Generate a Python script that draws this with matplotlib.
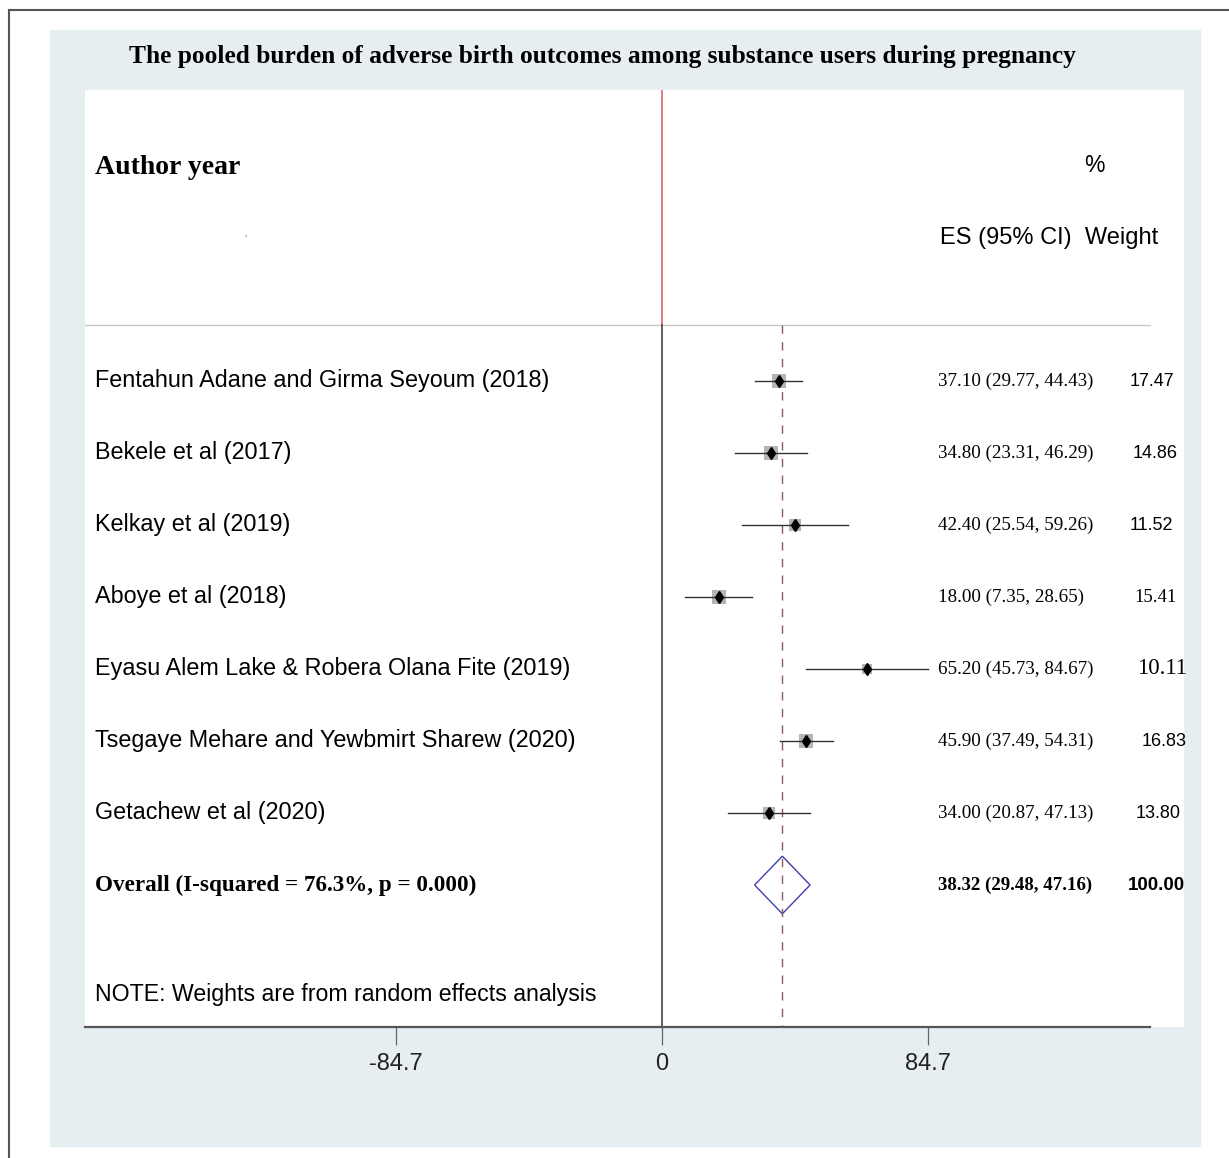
import matplotlib.pyplot as plt
from matplotlib.lines import Line2D
from matplotlib.patches import Rectangle

# study data
studies = ['Fentahun Adane and Girma Seyoum (2018)', 'Bekele et al (2017)',
           'Kelkay et al (2019)', 'Aboye et al (2018)',
           'Eyasu Alem Lake & Robera Olana Fite (2019)',
           'Tsegaye Mehare and Yewbmirt Sharew (2020)', 'Getachew et al (2020)']
es = [37.10, 34.80, 42.40, 18.00, 65.20, 45.90, 34.00]
lo = [29.77, 23.31, 25.54, 7.35, 45.73, 37.49, 20.87]
hi = [44.43, 46.29, 59.26, 28.65, 84.67, 54.31, 47.13]
weights = [17.47, 14.86, 11.52, 15.41, 10.11, 16.83, 13.80]
weight_labels = ['17.47', '14.86', '11.52', '15.41', '10.11', '16.83', '13.80']
pooled_es, pooled_lo, pooled_hi = 38.32, 29.48, 47.16
ticks = [-84.7, 0, 84.7]
tick_labels = ['-84.7', '0', '84.7']

# fonts used by the weight column in the source image
weight_fonts = ['sans', 'sans', 'sans', 'serif', 'serif', 'sans', 'sans']
weight_sizes = [13, 13, 13, 13.5, 16.5, 13, 13]
weight_right = [1174, 1178, 1173, 1177, 1187, 1187, 1181]

SERIF = ['Liberation Serif', 'DejaVu Serif']
SANS = ['Liberation Sans', 'DejaVu Sans']

W, H = 1229, 1158
fig = plt.figure(figsize=(W / 100, H / 100), dpi=100)
fig.patch.set_facecolor('white')


def fx(px):
    return px / W


def fy(py):
    return 1 - py / H


# outer frame (left and top visible)
fig.add_artist(Line2D([fx(9), fx(9)], [fy(10), 0], color='#555555', lw=1.5))
fig.add_artist(Line2D([fx(9), 1], [fy(10), fy(10)], color='#555555', lw=1.5))

# light blue background panel
fig.add_artist(Rectangle((fx(50), fy(1146)), fx(1200) - fx(50), fy(30) - fy(1146),
                         transform=fig.transFigure, color='#e7eef1', zorder=0))

fig.text(fx(602), fy(57),
         'The pooled burden of adverse birth outcomes among substance users during pregnancy',
         ha='center', va='center', family=SERIF, weight='bold', fontsize=18.3)

# main plotting area
left, right, top, bottom = 85, 1184, 90, 1027
ax = fig.add_axes([fx(left), fy(bottom), fx(right) - fx(left), fy(top) - fy(bottom)])
ax.set_facecolor('white')
scale = 266 / 84.7  # px per unit
x0 = 662
ax.set_xlim((left - x0) / scale, (right - x0) / scale)
row_px, row_h = 381, 72
ax.set_ylim((bottom - row_px) / row_h + 1, (top - row_px) / row_h + 1)

for s in ['top', 'right', 'left']:
    ax.spines[s].set_visible(False)
xmax_line = (1150 - x0) / scale
ax.spines['bottom'].set_bounds((left - x0) / scale, xmax_line)
ax.spines['bottom'].set_color('#555555')
ax.spines['bottom'].set_linewidth(1.6)
ax.set_yticks([])
ax.set_xticks(ticks)
ax.set_xticklabels(tick_labels, family=SANS, fontsize=17, color='#222222')
ax.tick_params(axis='x', direction='out', length=13, width=0.9, color='#666666', pad=6)

sep_y = (325 - row_px) / row_h + 1
ymin, ymax = ax.get_ylim()
ax.plot([(left - x0) / scale, xmax_line], [sep_y, sep_y], color='#c8c8c8', lw=1)
ax.plot([0, 0], [ymax, sep_y], color='#e06666', lw=1.2)
ax.plot([0, 0], [sep_y, ymin], color='#444444', lw=1.2)
ax.plot([pooled_es, pooled_es], [sep_y, ymin], color='#8a5a5a', lw=1,
        dashes=(6, 6))

rows = list(range(1, len(studies) + 1))
for r, e, l, h, w in zip(rows, es, lo, hi, weights):
    ax.plot([l, h], [r, r], color='#333333', lw=1, zorder=3)
    ax.plot(e, r, marker='s', markersize=3.4 * (w ** 0.5) * 0.72, color='#b4b4b4',
            markeredgewidth=0, zorder=2)
    ax.plot(e, r, marker='d', markersize=6.5, color='black', zorder=4)

pr = len(studies) + 1
ax.fill([pooled_lo, pooled_es, pooled_hi, pooled_es],
        [pr, pr - 0.4, pr, pr + 0.4], fill=False, edgecolor='#4040b0', lw=1)


def xd(px):
    return (px - x0) / scale


# header
ax.text(xd(95), -1.96, 'Author year', family=SERIF, weight='bold', fontsize=20,
        va='center', ha='left')
ax.text(xd(1094), -2.0, '%', family=SANS, fontsize=16.5, va='center', ha='center')
ax.text(xd(940), (238 - row_px) / row_h + 1, 'ES (95% CI)  Weight', family=SANS,
        fontsize=17, va='center', ha='left')
ax.text(xd(245), (240 - row_px) / row_h + 1, "'", family=SANS, fontsize=8,
        color='#777777', va='center', ha='center')

for r, name, e, l, h, wl, wf, ws, wr in zip(rows, studies, es, lo, hi, weight_labels,
                                            weight_fonts, weight_sizes, weight_right):
    ax.text(xd(95), r, name, family=SANS, fontsize=16.8, va='center', ha='left')
    ax.text(xd(938), r, f'{e:.2f} ({l:.2f}, {h:.2f})', family=SERIF, fontsize=13.7,
            va='center', ha='left')
    ax.text(xd(wr), r, wl, family=SERIF if wf == 'serif' else SANS, fontsize=ws,
            va='center', ha='right')

ax.text(xd(95), pr, 'Overall (I-squared = 76.3%, p = 0.000)', family=SERIF,
        weight='bold', fontsize=16.7, va='center', ha='left')
ax.text(xd(938), pr, f'{pooled_es:.2f} ({pooled_lo:.2f}, {pooled_hi:.2f})',
        family=SERIF, weight='bold', fontsize=13.6, va='center', ha='left')
ax.text(xd(1185), pr, '100.00', family=SANS, weight='bold', fontsize=13.5,
        va='center', ha='right')

ax.text(xd(95), (995 - row_px) / row_h + 1, 'NOTE: Weights are from random effects analysis',
        family=SANS, fontsize=16.7, va='center', ha='left')

fig.savefig('out.png', dpi=100)
